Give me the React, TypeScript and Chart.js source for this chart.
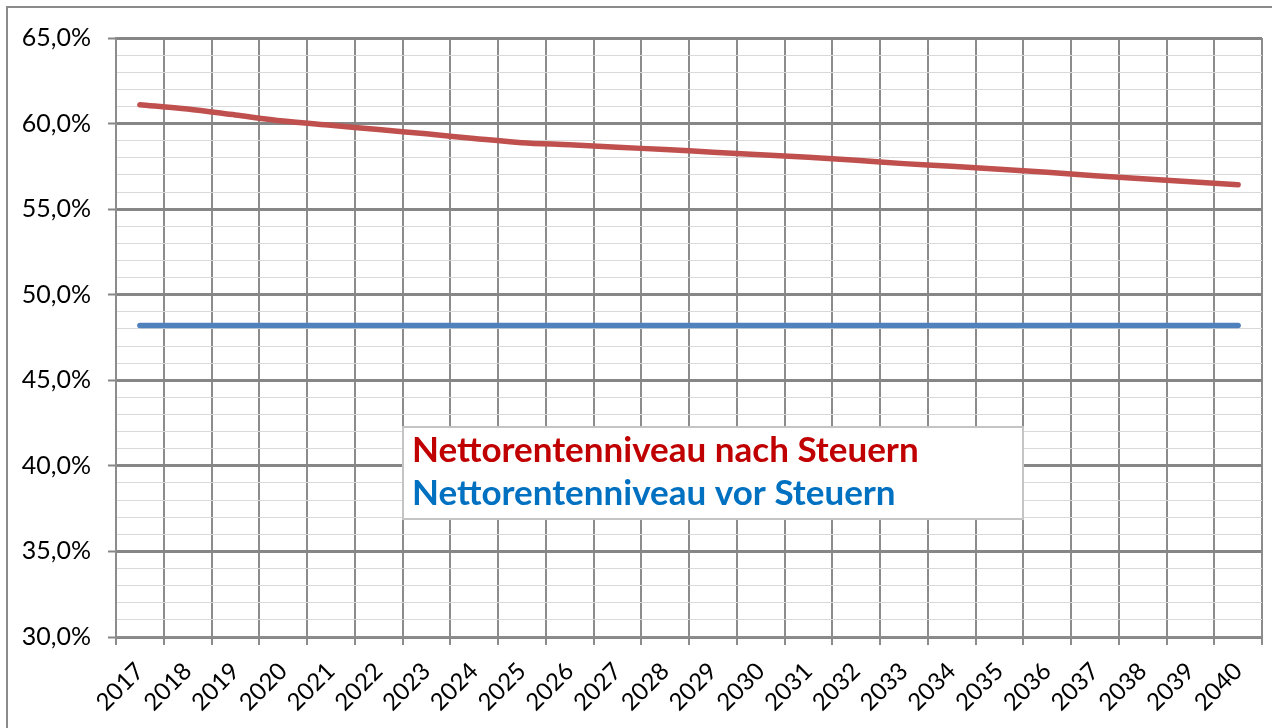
import React, { useEffect, useRef } from "react";
import { Chart, registerables } from "chart.js";

Chart.register(...registerables);

const years = [
  "2017", "2018", "2019", "2020", "2021", "2022", "2023", "2024", "2025", "2026", "2027", "2028",
  "2029", "2030", "2031", "2032", "2033", "2034", "2035", "2036", "2037", "2038", "2039", "2040",
];

const nachSteuern = [
  61.1, 60.85, 60.5, 60.15, 59.9, 59.65, 59.4, 59.13, 58.88, 58.76, 58.62, 58.48,
  58.33, 58.18, 58.03, 57.85, 57.66, 57.5, 57.33, 57.16, 56.95, 56.77, 56.6, 56.42,
];

const vorSteuern = [
  48.2, 48.2, 48.2, 48.2, 48.2, 48.2, 48.2, 48.2, 48.2, 48.2, 48.2, 48.2,
  48.2, 48.2, 48.2, 48.2, 48.2, 48.2, 48.2, 48.2, 48.2, 48.2, 48.2, 48.2,
];

const seriesLabels = ["Nettorentenniveau nach Steuern", "Nettorentenniveau vor Steuern"];
const legendTextColors = ["#C00000", "#0070C0"];

const FONT = "Lato, 'Noto Sans', sans-serif";

const frameAndLegend = {
  id: "frameAndLegend",
  beforeDraw(chart: any) {
    const ctx = chart.ctx;
    ctx.save();
    ctx.fillStyle = "#ffffff";
    ctx.fillRect(0, 0, chart.width, chart.height);
    ctx.strokeStyle = "#8B8B8B";
    ctx.lineWidth = 2;
    ctx.strokeRect(7, 7, chart.width + 20, chart.height + 20);
    ctx.restore();
  },
  afterDraw(chart: any) {
    const ctx = chart.ctx;
    const ca = chart.chartArea;
    const bx = ca.left + 287;
    const by = ca.top + 389;
    const bw = 620;
    const bh = 92;
    ctx.save();
    ctx.fillStyle = "#ffffff";
    ctx.fillRect(bx, by, bw, bh);
    ctx.strokeStyle = "#C4C4C4";
    ctx.lineWidth = 2;
    ctx.strokeRect(bx, by, bw, bh);
    ctx.font = `bold 35px ${FONT}`;
    ctx.textBaseline = "alphabetic";
    ctx.textAlign = "left";
    seriesLabels.forEach((t, i) => {
      ctx.fillStyle = legendTextColors[i];
      ctx.fillText(t, bx + 9, by + 35 + i * 43);
    });
    ctx.restore();
  },
};

export default function App() {
  const ref = useRef<HTMLCanvasElement | null>(null);

  useEffect(() => {
    document.body.style.overflow = "hidden";
    const canvas = ref.current;
    if (!canvas) return;
    const chart = new Chart(canvas, {
      type: "line",
      data: {
        labels: years,
        datasets: [
          {
            label: seriesLabels[0],
            data: nachSteuern,
            borderColor: "#C0504D",
            borderWidth: 5.5,
            pointRadius: 0,
            tension: 0.3,
            borderCapStyle: "round",
            borderJoinStyle: "round",
            fill: false,
          },
          {
            label: seriesLabels[1],
            data: vorSteuern,
            borderColor: "#4F81BD",
            borderWidth: 5.5,
            pointRadius: 0,
            tension: 0,
            borderCapStyle: "round",
            fill: false,
          },
        ],
      },
      plugins: [frameAndLegend],
      options: {
        animation: false,
        responsive: true,
        maintainAspectRatio: false,
        layout: { padding: { left: 0, top: 38, right: 10, bottom: 0 } },
        plugins: {
          legend: { display: false },
          tooltip: { enabled: false },
        },
        scales: {
          x: {
            offset: true,
            afterFit: (s: any) => {
              s.height = 91;
            },
            grid: {
              offset: true,
              color: "#8C8C8C",
              lineWidth: 2,
              tickLength: 8,
              drawTicks: true,
            },
            border: { color: "#8C8C8C", width: 2 },
            ticks: {
              autoSkip: false,
              minRotation: 45,
              maxRotation: 45,
              padding: 12,
              color: "#000000",
              font: { family: FONT, size: 24 },
            },
          },
          y: {
            min: 30,
            max: 65,
            afterFit: (s: any) => {
              s.width = 116;
            },
            grid: {
              color: (c: any) => (Math.round(c.tick.value) % 5 === 0 ? "#868686" : "#D9D9D9"),
              lineWidth: (c: any) => (Math.round(c.tick.value) % 5 === 0 ? 3 : 1),
              tickColor: (c: any) => (Math.round(c.tick.value) % 5 === 0 ? "#868686" : "rgba(0,0,0,0)"),
              tickWidth: 2,
              tickLength: 8,
            },
            border: { color: "#8C8C8C", width: 2 },
            ticks: {
              stepSize: 1,
              autoSkip: false,
              padding: 17,
              color: "#000000",
              font: { family: FONT, size: 25 },
              callback: (v: any) =>
                Math.round(v) % 5 === 0 ? Number(v).toFixed(1).replace(".", ",") + "%" : "",
            },
          },
        },
      },
    } as any);
    return () => chart.destroy();
  }, []);

  return (
    <div style={{ position: "fixed", left: 0, top: 0, width: 1272, height: 728 }}>
      <canvas ref={ref} />
    </div>
  );
}
